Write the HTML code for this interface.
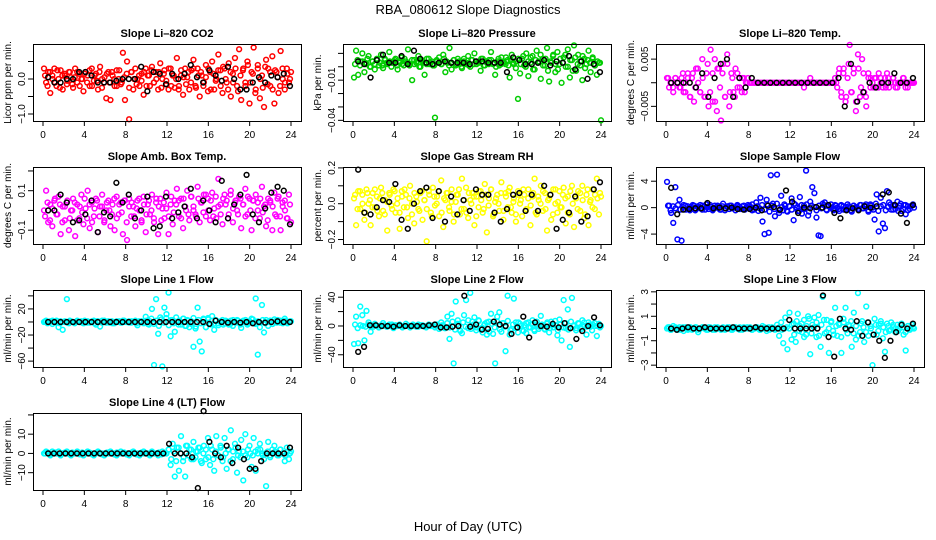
<!DOCTYPE html>
<html><head><meta charset="utf-8"><style>
html,body{margin:0;padding:0;background:#fff}
svg{display:block;font-family:"Liberation Sans",sans-serif}
</style></head><body>
<svg id="chart" width="936" height="540" viewBox="0 0 936 540">
<text x="468" y="14" text-anchor="middle" font-size="13">RBA_080612  Slope Diagnostics</text>
<text x="468" y="531" text-anchor="middle" font-size="13">Hour of Day (UTC)</text>
</svg>
<script>
const xTicks=[0,4,8,12,16,20,24];
const co2Color=[0.3,-0.1,0.2,-0.4,0.1,0.3,-0.2,0.0,0.25,-0.3,0.1,-0.15,0.2,0.05,-0.25,0.3,-0.1,0.15,0.0,-0.35,0.2,0.1,-0.2,0.3,-0.05,0.15,-0.3,0.35,0.0,-0.1,-0.55,0.2,-0.6,0.1,-0.2,0.25,0.0,-0.15,0.75,-0.6,0.5,-1.15,0.2,-0.3,0.3,0.0,-0.2,0.15,-0.45,0.3,0.1,-0.2,0.35,-0.1,0.2,-0.3,0.45,0.0,0.25,-0.15,-0.3,0.3,0.1,-0.25,0.6,-0.2,0.1,-0.45,0.3,0.05,-0.3,0.25,0.55,-0.2,0.3,-0.5,0.1,-0.1,0.4,-0.35,0.2,0.5,-0.3,0.0,0.7,0.25,-0.4,0.3,-0.1,0.45,-0.5,0.15,0.6,-0.2,0.85,-0.6,0.3,-0.1,0.5,-0.7,0.2,0.9,-0.3,0.4,-0.55,0.1,-0.8,0.55,0.3,-0.2,0.65,-0.7,0.2,-0.4,0.8,0.0,-0.3,0.3,-0.1,0.2];
const co2Core=[0.1,-0.2,0.2,0.0,-0.1,0.25,-0.25,0.1,0.15,-0.05,0.2,-0.15,0.05,0.2,-0.2,0.0,0.15,-0.1,0.25,-0.2,0.1,-0.05,0.2,-0.25,0.05,0.15,-0.1,0.2,0.0,-0.2,0.25,-0.1,0.05,0.15,-0.25,0.2,0.0,-0.15,0.1,-0.05,0.2,-0.2,0.1,0.25,-0.1,0.0,0.2,-0.25,0.15,-0.05,0.3,-0.2,0.1,0.0,-0.3,0.25,0.05,-0.15,0.2,-0.1,0.3,-0.25,0.1,0.2,-0.2,0.05,0.3,-0.3,0.15,-0.05,0.25,-0.2,0.35,0.0,-0.3,0.2,-0.1,0.3,-0.35,0.1,0.25,-0.2,0.4,-0.1,0.15,-0.4,0.3,0.0,-0.25,0.35,-0.15,0.2,-0.3,0.25,0.05,-0.2,0.3,-0.1,0.15,0.0];
const co2Black=[0.05,-0.1,-0.1,0.0,0.0,0.2,0.2,0.1,-0.1,-0.1,-0.1,-0.05,0.0,0.0,0.0,0.35,-0.35,0.2,0.15,-0.15,0.15,0.0,0.15,0.4,0.05,-0.1,0.25,0.1,-0.05,0.35,0.0,-0.3,-0.3,-0.1,0.05,-0.1,0.1,0.05,0.15,-0.2];
const presColor=[-0.008,0.012,-0.006,0.004,0.010,-0.004,0.002,0.008,0.000,0.004,-0.002,0.006,0.001,0.009,-0.001,0.005,0.003,0.011,0.000,0.004,0.006,-0.002,0.003,0.007,0.001,0.004,0.013,0.002,-0.010,0.005,0.003,0.008,0.000,0.004,-0.006,0.002,0.006,0.003,0.001,-0.038,0.004,0.007,0.002,0.009,-0.004,0.003,0.014,-0.002,0.005,0.001,0.006,0.003,-0.001,0.004,0.002,0.008,0.000,0.005,0.010,0.002,0.004,-0.003,0.006,0.001,0.003,0.005,0.011,0.002,-0.006,0.004,0.001,0.007,0.003,0.002,0.005,-0.008,0.009,0.002,0.004,-0.024,-0.005,0.006,0.001,0.010,-0.007,0.003,0.008,-0.002,0.012,0.004,-0.009,0.006,0.001,0.014,-0.011,0.003,0.009,-0.004,0.011,0.002,-0.012,0.007,0.000,0.013,-0.008,0.005,0.016,-0.003,0.009,0.001,-0.010,0.006,0.002,0.012,-0.004,0.007,0.001,-0.006,0.003,-0.040];
const presCore=[0.002,0.005,0.001,0.004,0.003,0.006,0.000,0.004,0.002,0.005,0.003,0.001,0.006,0.002,0.004,0.003,0.005,0.001,0.004,0.002,0.006,0.003,0.001,0.005,0.002,0.004,0.000,0.005,0.003,0.006,0.002,0.004,0.001,0.005,0.003,0.002,0.006,0.004,0.001,0.003,0.005,0.002,0.004,0.000,0.006,0.003,0.001,0.005,0.002,0.004,0.003,0.006,0.001,0.004,0.002,0.005,0.003,0.000,0.006,0.002,0.004,0.007,0.001,0.005,0.003,-0.001,0.006,0.002,0.008,0.000,0.004,0.007,-0.002,0.005,0.003,0.009,0.001,0.006,-0.003,0.004,0.008,0.002,-0.002,0.006,0.003,0.009,0.000,0.005,-0.003,0.007,0.002,0.004,0.008,-0.001,0.005,0.003,0.006,0.001,0.004,0.003];
const presBlack=[0.004,0.002,-0.008,0.005,0.009,0.003,0.003,0.008,0.002,0.012,0.006,0.003,0.002,0.003,0.004,0.003,0.003,0.003,0.002,0.004,0.004,0.003,0.003,0.003,-0.004,0.007,0.005,0.002,0.002,0.003,0.005,0.001,0.004,0.003,0.008,-0.002,0.004,-0.009,0.002,-0.004];
const tempColor=[0.001,-0.001,0.000,-0.002,0.001,0.000,-0.001,0.001,-0.002,0.000,0.002,-0.003,0.001,-0.004,0.003,0.000,-0.002,0.005,-0.003,0.002,-0.005,0.007,-0.004,0.005,-0.006,0.003,-0.008,0.004,-0.003,0.006,-0.005,0.002,-0.002,0.003,-0.001,0.001,-0.002,0.001,0.000,0.001,0,0,0,0,0,0,0,0,0,0,0,0,0,0,0,0,0,0,0,0,0,0,0,0,0,0,-0.001,0,0,0.001,0,0,0,0,0,0,0,0,0,0,0.000,0.001,-0.001,0.003,-0.003,0.002,-0.004,0.001,0.008,-0.002,0.003,-0.006,0.006,-0.003,0.005,-0.002,-0.005,0.002,-0.001,0.000,0.001,-0.001,0.002,0.000,-0.001,0.001,0.002,-0.001,0.000,0.001,0.000,-0.001,0.000,0.000,0.001,0.000,-0.001,0.000,0.000,0.000];
const tempCore=[0.001,0,-0.001,0.001,0,-0.001,0.002,-0.002,0.001,-0.003,0.002,-0.001,0.003,-0.002,0.001,-0.003,0.004,-0.002,0.002,-0.004,0.003,-0.001,0.002,-0.003,0.004,-0.002,0.001,-0.003,0.002,-0.001,0.001,-0.002,0,0,0,0,0,0,0,0,0,0,0,0,0,0,0,0,0,0,0,0,0,0,0,0,0,0,0,0,0,0,0,0,0,0,0,0,0,0.002,-0.002,0.003,-0.003,0.004,-0.002,0.002,-0.004,0.003,-0.001,0.002,-0.003,0.001,0.001,-0.001,0.001,-0.001,0.001,0,-0.001,0.001,0,0.001,-0.001,0,0,0.001,-0.001,0,0,0];
const tempBlack=[0.000,0.000,0.000,0.000,-0.001,0.002,-0.003,0.001,0.004,0.005,-0.003,0.001,-0.001,0.001,0,0,0,0,0,0,0,0,0,0,0,0,0,0.001,-0.005,0.004,-0.004,-0.002,0.000,-0.001,0.000,0.000,0.002,0.000,0.000,0.001];
const ambColor=[0.0,0.1,-0.06,0.03,-0.08,0.05,-0.02,0.07,-0.12,0.02,-0.05,0.04,-0.1,0.0,0.06,-0.13,0.03,-0.04,0.08,-0.07,0.01,0.1,-0.09,0.04,-0.03,0.06,-0.11,0.02,0.08,-0.06,0.0,0.05,-0.08,0.03,-0.1,0.07,-0.02,0.04,-0.12,0.05,-0.15,0.06,-0.03,0.02,-0.08,0.05,0.0,-0.06,0.07,-0.11,0.03,-0.02,0.08,-0.06,0.04,-0.12,0.06,0.01,-0.04,0.09,-0.12,0.03,-0.07,0.05,0.11,-0.03,0.06,-0.09,0.02,0.1,-0.05,0.07,0.0,-0.02,0.12,-0.06,0.04,0.08,-0.03,0.06,-0.05,0.09,0.01,-0.04,0.16,0.03,-0.07,0.08,0.05,-0.02,0.1,-0.06,0.04,0.0,0.07,-0.09,0.03,0.11,-0.02,0.06,-0.1,0.05,0.08,0.0,-0.04,0.12,0.02,-0.08,0.06,0.04,-0.1,0.09,-0.03,0.07,-0.1,0.02,0.05,-0.04,0.08,-0.06];
const ambCore=[-0.03,0.04,-0.05,0.01,0.06,-0.02,0.03,-0.06,0.02,0.05,-0.04,0.0,0.04,-0.05,0.02,-0.01,0.06,-0.04,0.03,-0.06,0.01,0.05,-0.03,0.02,-0.05,0.04,0.0,-0.02,0.06,-0.04,0.03,-0.01,0.05,-0.06,0.02,0.04,-0.03,0.01,0.06,-0.05,0.03,-0.02,0.05,0.0,-0.04,0.06,0.02,-0.05,0.04,0.01,-0.03,0.07,-0.01,0.03,0.05,-0.04,0.06,0.0,-0.02,0.07,0.02,-0.03,0.06,0.04,-0.01,0.08,0.0,0.05,-0.03,0.07,0.02,-0.02,0.06,0.03,-0.04,0.08,0.01,0.05,-0.02,0.06,0.03,-0.03,0.07,0.0,0.05,-0.04,0.04,0.06,-0.01,0.03,-0.05,0.05,0.02,-0.02,0.06,-0.03,0.04,0.0,-0.04,0.03];
const ambBlack=[0.0,0.0,0.08,0.04,-0.06,-0.05,-0.02,0.05,-0.11,-0.01,-0.03,0.14,0.04,0.08,-0.04,0.0,0.07,-0.09,-0.08,0.07,-0.04,-0.01,0.02,0.11,-0.04,0.05,0.0,-0.06,0.15,-0.04,0.03,0.08,0.18,-0.02,-0.06,0.01,0.09,0.12,0.1,-0.07];
const rhColor=[0.03,-0.12,0.07,-0.03,0.05,-0.09,0.08,0.0,-0.12,0.06,-0.02,0.04,-0.07,0.09,-0.04,0.02,-0.15,0.06,-0.01,0.08,-0.05,0.03,-0.14,0.07,-0.02,0.05,-0.08,0.1,0.0,-0.11,0.04,-0.03,0.06,-0.09,0.02,-0.21,0.07,-0.05,0.09,-0.01,0.04,-0.07,0.13,-0.13,0.02,0.06,-0.04,0.08,-0.1,0.01,0.05,-0.06,0.14,-0.03,0.09,-0.08,0.02,0.06,-0.12,0.04,-0.02,0.07,-0.05,0.11,-0.16,0.03,0.08,-0.07,0.01,0.05,-0.04,0.12,-0.09,0.06,-0.02,0.09,-0.05,0.03,-0.1,0.07,0.0,-0.07,0.05,-0.03,0.08,-0.12,0.04,0.14,-0.06,0.02,0.1,-0.04,0.06,-0.15,0.03,-0.09,0.08,0.0,-0.05,0.07,-0.02,0.09,-0.11,0.04,-0.06,0.1,-0.13,0.03,0.07,-0.04,0.1,-0.08,0.05,-0.12,0.02,0.08,-0.03,0.14,-0.06,0.04];
const rhCore=[0.05,-0.03,0.07,0.0,-0.05,0.06,0.02,-0.02,0.08,-0.04,0.03,0.06,-0.06,0.01,0.05,-0.03,0.07,0.0,-0.05,0.04,0.08,-0.02,0.03,-0.06,0.06,0.01,-0.04,0.07,0.02,-0.03,0.05,-0.07,0.04,0.0,0.07,-0.05,0.03,0.06,-0.02,0.01,-0.06,0.05,0.08,-0.03,0.02,-0.05,0.06,0.0,0.04,-0.07,0.07,0.02,-0.03,0.05,-0.01,0.08,-0.06,0.03,0.0,0.06,-0.04,0.04,0.07,-0.02,0.01,-0.06,0.05,0.02,0.08,-0.04,0.03,-0.01,0.06,-0.05,0.04,0.0,0.07,-0.03,0.02,0.05,-0.06,0.08,0.01,-0.02,0.05,0.03,-0.05,0.07,0.0,0.04,-0.03,0.06,0.02,-0.06,0.08,0.01,-0.02,0.05,0.03,0.06];
const rhBlack=[0.19,-0.05,-0.06,-0.02,0.02,0.01,0.11,-0.09,-0.14,0.0,0.07,0.09,-0.08,0.07,-0.1,0.04,-0.06,0.02,-0.04,0.08,0.05,0.05,-0.05,-0.1,-0.03,0.05,0.06,-0.04,0.05,-0.04,0.1,0.05,-0.14,-0.09,-0.05,0.04,-0.1,-0.07,0.08,0.12];
const sampleColor=[3.9,0.3,-0.8,-2.3,3.1,-4.8,1.2,-5.0,0.4,-0.3,0.2,-0.4,0.1,0.3,-0.2,0.0,0.4,-0.3,0.2,0.5,-0.2,0.1,-0.4,0.3,0.0,0.2,-0.3,0.6,-0.1,0.2,-0.2,0.3,0.0,-0.4,0.2,0.1,-0.2,0.3,-0.1,0.4,0.0,0.5,-0.3,0.8,-0.5,1.5,-2.1,-4.0,1.2,-3.8,4.9,0.6,-1.3,5.0,-0.8,1.8,-0.4,0.3,-0.6,0.2,1.4,-1.9,0.4,-0.5,1.6,-0.9,0.3,5.6,-1.2,0.9,3.1,2.2,-1.5,-4.2,-4.3,0.6,0.8,-0.4,0.2,0.5,-0.3,0.4,0.0,-0.5,0.3,0.2,-0.3,0.5,0.0,-0.6,0.3,0.1,-0.2,0.4,-0.1,0.3,0.2,-0.4,0.5,0.0,-1.8,2.0,-3.6,1.5,-2.4,-3.1,2.5,0.8,-0.3,0.4,-0.2,0.9,0.3,-0.5,0.4,-1.0,0.2,-0.2,0.3,0.0];
const sampleCore=[0.3,-0.4,0.2,-0.1,0.4,-0.3,0.1,0.3,-0.2,0.0,0.4,-0.4,0.2,-0.1,0.3,-0.3,0.1,0.4,-0.2,0.0,0.3,-0.3,0.2,-0.4,0.1,0.3,-0.1,0.0,0.4,-0.2,0.2,-0.3,0.1,0.3,-0.4,0.0,0.2,-0.1,0.4,-0.3,0.5,-0.6,0.3,-0.2,0.6,-0.4,0.1,0.5,-0.5,0.2,-0.3,0.6,0.0,-0.5,0.4,-0.2,0.5,-0.6,0.3,0.1,-0.4,0.3,-0.1,0.4,-0.3,0.2,0.0,-0.4,0.3,-0.2,0.4,-0.3,0.1,0.2,-0.4,0.3,0.0,-0.2,0.4,-0.1,0.5,-0.6,0.3,-0.3,0.6,-0.5,0.2,0.4,-0.4,0.1,0.5,-0.3,0.3,-0.5,0.6,-0.2,0.4,-0.4,0.2,0.5];
const sampleBlack=[3.0,-1.0,-0.3,-0.2,-0.1,-0.1,0.7,-0.1,0.0,-0.1,0.0,-0.2,-0.3,-0.2,0.0,-0.4,0.3,0.1,-0.3,2.6,0.9,-0.8,0.0,-0.1,0.1,0.0,0.4,-0.8,-1.6,-0.4,-0.1,-0.4,0.2,0.0,0.2,2.0,2.3,0.4,-0.9,-2.3,0.4];
const line1Color=[0,2,-1,1,-3,0,2,-8,1,-12,0,35,-2,1,0,-1,2,0,1,-2,0,1,-1,0,2,-4,1,-7,2,0,-1,1,0,-2,0,1,0,-1,2,0,0,1,-1,0,2,-5,0,1,-2,8,-3,1,20,-66,35,-18,7,-68,22,12,45,-22,3,-15,0,2,-4,5,-6,3,-8,1,-38,-10,22,-30,-45,4,-8,6,-3,9,-12,2,-5,0,3,-2,1,-4,2,-6,0,3,-1,-9,2,0,-4,1,5,-2,36,-50,-8,26,-16,3,-6,2,-3,4,-1,0,2,-2,5,-1,0,1];
const line1Core=[1,-2,0,2,-1,1,-2,0,1,-1,2,0,-2,1,0,-1,2,-1,0,1,-2,1,0,-1,2,0,-1,1,-2,0,1,-1,2,0,-1,1,0,-2,1,0,-1,2,-4,5,-3,2,-6,4,-1,6,-5,3,-2,7,-4,0,5,-6,2,-3,6,-7,3,-2,5,-8,4,-4,-3,3,-2,1,-4,2,0,-3,3,-1,2,-4,1,3,-2,0,4,-3,1,-1,3,-2,0,2,-3,1,3,-1,0,2,-2,1];
const line1Black=[0,0,0,0,0,0,0,0,0,0,0,0,0,0,0,0,0,0,0,0,0,0,0,0,0,0,-3,2,0,-1,0,-1,0,-2,0,-1,0,1,0,0];
const line2Color=[-25,13,-24,27,15,-20,21,5,-8,1,3,0,-2,1,4,0,-1,2,0,-3,1,0,2,-1,0,3,0,-2,1,0,-1,2,0,1,-1,0,2,0,1,-2,2,-4,5,0,-3,13,-18,17,-52,34,8,-6,-10,15,36,-3,46,6,12,-2,8,-5,-9,3,-12,6,17,-11,-52,13,19,-8,4,-35,42,-12,-4,38,5,-9,3,-6,1,-10,5,-2,8,-7,2,-4,14,0,-5,3,-9,6,-2,1,-13,9,-20,36,-3,23,-29,39,1,-6,4,-2,8,0,-12,5,-1,2,0,-14,3,0];
const line2Core=[2,-3,1,0,-1,2,0,-1,1,-2,0,1,-1,0,2,-1,0,1,-2,0,1,-1,2,0,-1,1,0,-2,1,0,-1,2,0,1,-3,4,-2,6,-5,3,-7,5,-1,8,-4,2,-6,7,-3,1,5,-8,3,-2,6,-5,4,-1,7,-6,2,-3,5,0,-7,4,-2,3,-5,6,-1,2,-4,5,-3,1,7,-6,2,-2,4,-5,6,0,-3,3,-4,5,-1,2,-6,4,0,-2];
const line2Black=[-36,-29,1,1,0,0,-1,1,0,0,0,0,1,2,-2,-2,-1,0,42,-1,2,-5,-4,6,2,0,-11,-2,13,-16,5,0,-1,3,-2,4,-3,-18,-7,0,12,1];
const line3Color=[0,0.1,-0.1,0.2,0,-0.1,0.1,0,-0.2,0.1,0,0.1,-0.1,0,0.1,-0.3,0,0.1,0,-0.1,0.1,0,-0.1,0.1,0,0,-0.1,0.1,0,0,0.1,-0.1,0,0.1,0,-0.1,0,0.1,0,0,0.1,-0.1,0,0.1,0,-0.1,0.2,0,-0.2,0.1,0,0,-0.1,0.3,-0.6,0.5,-1.2,0.9,-1.7,1.3,-0.9,0.4,-1.1,1.2,0.2,-0.3,0.7,-0.5,1.0,-2.1,0.3,0.9,-0.7,1.1,-1.5,2.6,-0.4,0.7,-2.0,0.5,-0.2,1.7,-0.6,0.3,-2.0,0.8,1.7,-0.4,0.2,-1.5,1.3,-0.9,2.9,-0.3,0.6,-1.1,1.8,-0.6,0.2,-3.0,0.8,-0.5,0.3,0.6,-0.8,-1.9,0.4,-0.2,0.5,0.1,-0.3,0.3,0.0,0.4,-0.5,-1.8,0.2,-0.1,0.3,0.0];
const line3Core=[0.1,-0.1,0,0.1,0,-0.1,0.1,0,-0.1,0.1,0,0.1,-0.1,0,0.1,0,-0.1,0.1,0,-0.1,0.1,0,0,-0.1,0.1,0,-0.1,0.1,0,0.1,-0.1,0,0.1,0,-0.1,0,0.1,-0.1,0,0.1,0,-0.1,0.1,0,0,0.1,-0.1,0,0.1,0,0.3,-0.5,0.6,-0.2,0.4,-0.7,0.2,0.8,-0.4,0.1,0.5,-0.6,0.3,0.7,-0.3,0.0,0.6,-0.5,0.2,0.4,-0.7,0.5,-0.1,0.3,0.6,-0.4,0.2,-0.6,0.4,0.1,-0.3,0.5,0.0,-0.5,0.3,-0.2,0.4,0.1,-0.3,0.2,-0.1,0.3,0.0,-0.2,0.3,0.1,-0.3,0.2,0.0,0.1];
const line3Black=[0,-0.1,0,0.1,0,0,0.1,0,0,0,0,0.1,0,0,0,0.1,0,0,0,0,0,0.7,0,0,0,0,0,2.7,-0.7,-2.3,0.8,0,-0.1,0.6,-0.6,0.5,-0.5,-1.0,-2.4,-1.0,-0.3,0.3,0,0.4];
const line4Color=[0,1,0,-1,1,0,0,1,-1,0,0,1,0,-1,0,0,1,0,0,-1,0,1,0,0,-1,0,1,0,0,-1,0,0,1,0,0,-1,0,1,0,0,0,-1,0,1,0,0,-1,0,1,0,0,-1,1,0,0,-1,0,1,0,0,2,-6,5,-12,3,-9,9,-4,-12,4,2,-3,6,-2,1,3,-5,4,-3,8,-6,2,-9,9,-1,4,-4,8,-8,2,12,-3,5,-10,1,7,-14,10,-2,4,-7,8,-9,2,5,0,-3,-17,6,-1,2,4,0,-1,2,0,-4,3,-3,1];
const line4Core=[0,0.5,-0.5,0,0.5,0,-0.5,0,0.5,0,-0.5,0.5,0,0,-0.5,0.5,0,0,0.5,-0.5,0,0.5,0,-0.5,0,0.5,0,0,-0.5,0.5,0,0,0.5,-0.5,0,0.5,0,-0.5,0,0.5,0,0,-0.5,0.5,0,0,0.5,-0.5,0,0,2,-3,1,-4,3,0,-2,4,-1,2,-3,1,3,-4,0,2,-2,4,-3,1,-1,3,-2,0,2,-4,1,3,-1,-2,1,-1,2,0,-1,1,0,2,-1,0,1,-2,0,1,-1,2,0,-1,1,0];
const line4Black=[0,0,0,0,0,0,0,0,0,0,0,0,0,0,0,0,0,0,0,0,0,5,0,0,0,-2,-18,22,6,0,-2,4,-5,3,-3,-8,-8,-4,0,0,0,0,3];

const panels=[
 {t:"Slope Li\u2013820 CO2",yl:"Licor ppm per min.",c:"#ff0000",col:0,row:0,ylim:[-1.2,1.0],ticks:[-1,-0.5,0,0.5],labs:["\u22121.0","","0.0",""],cv:co2Color,kv:co2Core,bv:co2Black},
 {t:"Slope Li\u2013820 Pressure",yl:"kPa per min.",c:"#00cc00",col:1,row:0,ylim:[-0.0405,0.017],ticks:[-0.04,-0.03,-0.02,-0.01,0,0.01],labs:["\u22120.04","","","\u22120.01","",""],cv:presColor,kv:presCore,bv:presBlack},
 {t:"Slope Li\u2013820 Temp.",yl:"degrees C per min.",c:"#ff00ff",col:2,row:0,ylim:[-0.0081,0.0082],ticks:[-0.005,0,0.005],labs:["\u22120.005","","0.005"],cv:tempColor,kv:tempCore,bv:tempBlack},
 {t:"Slope Amb. Box Temp.",yl:"degrees C per min.",c:"#ff00ff",col:0,row:1,ylim:[-0.17,0.22],ticks:[-0.1,0,0.1,0.2],labs:["\u22120.1","","0.1",""],cv:ambColor,kv:ambCore,bv:ambBlack},
 {t:"Slope Gas Stream RH",yl:"percent per min.",c:"#ffff00",col:1,row:1,ylim:[-0.225,0.205],ticks:[-0.2,-0.1,0,0.1,0.2],labs:["\u22120.2","","0.0","","0.2"],cv:rhColor,kv:rhCore,bv:rhBlack},
 {t:"Slope Sample Flow",yl:"ml/min per min.",c:"#0000ff",col:2,row:1,ylim:[-5.5,6.15],ticks:[-4,0,4],labs:["\u22124","0","4"],cv:sampleColor,kv:sampleCore,bv:sampleBlack},
 {t:"Slope Line 1 Flow",yl:"ml/min per min.",c:"#00ffff",col:0,row:2,ylim:[-69,49],ticks:[-60,-40,-20,0,20,40],labs:["\u221260","","\u221220","","20",""],cv:line1Color,kv:line1Core,bv:line1Black},
 {t:"Slope Line 2 Flow",yl:"ml/min per min.",c:"#00ffff",col:1,row:2,ylim:[-57,50],ticks:[-40,-20,0,20,40],labs:["\u221240","","0","","40"],cv:line2Color,kv:line2Core,bv:line2Black},
 {t:"Slope Line 3 Flow",yl:"ml/min per min.",c:"#00ffff",col:2,row:2,ylim:[-3.15,3.15],ticks:[-3,-2,-1,0,1,2,3],labs:["\u22123","","\u22121","","1","","3"],cv:line3Color,kv:line3Core,bv:line3Black},
 {t:"Slope Line 4 (LT) Flow",yl:"ml/min per min.",c:"#00ffff",col:0,row:3,ylim:[-19,21],ticks:[-10,0,10,20],labs:["\u221210","0","10",""],cv:line4Color,kv:line4Core,bv:line4Black}
];
const NS="http://www.w3.org/2000/svg";
const svg=document.getElementById('chart');
const boxLefts=[33,343,656],boxTops=[44,167,290,413],BW=268,BH=77;
function mk(tag,attrs,parent){const e=document.createElementNS(NS,tag);for(const k in attrs)e.setAttribute(k,attrs[k]);parent.appendChild(e);return e;}
panels.forEach((p,pi)=>{
 const L=boxLefts[p.col],T=boxTops[p.row];
 const g=mk('g',{},svg);
 
 
 const xs=h=>L+10+h/24*(BW-20);
 const ys=v=>T+BH-(v-p.ylim[0])/(p.ylim[1]-p.ylim[0])*BH;
 const tt=mk('text',{x:L+BW/2,y:T-7,'text-anchor':'middle','font-size':11,'font-weight':'bold'},g);
 tt.textContent=p.t;
 
 
 const yl=mk('text',{x:0,y:0,'text-anchor':'middle','font-size':10,transform:`translate(${L-22},${T+BH/2}) rotate(-90)`},g);
 yl.textContent=p.yl;
 
 
 p.ticks.forEach((v,i)=>{
  const y=ys(v);
  mk('line',{x1:L-5,x2:L,y1:y,y2:y,stroke:'#000','stroke-width':1},g);
  if(p.labs[i]){const t=mk('text',{x:0,y:0,'text-anchor':'middle','font-size':10,transform:`translate(${L-8},${y}) rotate(-90)`},g);t.textContent=p.labs[i];
   
   }
 });
 xTicks.forEach(h=>{
  const x=xs(h);
  mk('line',{x1:x,x2:x,y1:T+BH,y2:T+BH+5,stroke:'#000','stroke-width':1},g);
  const t=mk('text',{x:x,y:T+BH+17,'text-anchor':'middle','font-size':10},g);t.textContent=h;
  
  
 });
 mk('line',{x1:xs(0),x2:xs(24),y1:T+BH+0.5,y2:T+BH+0.5,stroke:'#000'},g);
 [[p.cv,p.c,0.1,24],[p.kv,p.c,0.2,23.9],[p.bv,'#000',0.5,23.9]].forEach(([arr,col,h0,h1])=>{
  const n=arr.length;
  arr.forEach((v,i)=>{
   const h=h0+(h1-h0)*i/(n-1);
   const c=mk('circle',{cx:xs(h),cy:ys(v),r:2.4,fill:'none',stroke:col,'stroke-width':1.5},g);
   
   
  });
 });
 const box=mk('rect',{x:L+0.5,y:T+0.5,width:BW,height:BH,fill:'none',stroke:'#000','stroke-width':1},g);
 
 
});
</script>
</body></html>
